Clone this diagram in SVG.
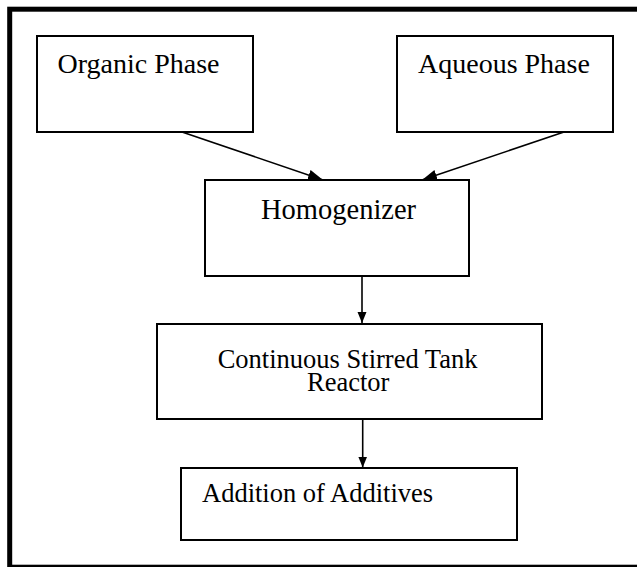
<svg xmlns="http://www.w3.org/2000/svg" width="637" height="567" viewBox="0 0 637 567">
<style>
.box{fill:#fff;stroke:#000;stroke-width:2}
.t{font-family:"Liberation Serif","Times New Roman",serif;fill:#000}
.l{stroke:#000;stroke-width:1.6;fill:none}
</style>
<defs>
<marker id="ah" markerUnits="userSpaceOnUse" markerWidth="16" markerHeight="12" refX="15" refY="5.5" orient="auto"><path d="M0,0 L15,5.5 L0,11 z" fill="#000"/></marker>
<marker id="av" markerUnits="userSpaceOnUse" markerWidth="12" markerHeight="10" refX="11" refY="4.5" orient="auto"><path d="M0,0 L11,4.5 L0,9 z" fill="#000"/></marker>
</defs>
<rect x="0" y="0" width="637" height="567" fill="#fff"/>
<rect x="9.7" y="9.2" width="640" height="558" fill="none" stroke="#000" stroke-width="5"/>
<g id="organic"><rect class="box" x="37" y="36" width="216" height="96"/><text class="t" x="57.5" y="72.7" font-size="28">Organic Phase</text></g>
<g id="aqueous"><rect class="box" x="397" y="36" width="216" height="96"/><text class="t" x="418" y="72.7" font-size="28">Aqueous Phase</text></g>
<g id="homogenizer"><rect class="box" x="205" y="180" width="264" height="96"/><text class="t" x="261" y="219" font-size="28.5">Homogenizer</text></g>
<g id="cstr"><rect class="box" x="157" y="324" width="385" height="95"/><text class="t" x="217.7" y="367.5" font-size="26.5">Continuous Stirred Tank</text><text class="t" x="307" y="391" font-size="26.5">Reactor</text></g>
<g id="additives"><rect class="box" x="181" y="468" width="336" height="72"/><text class="t" x="202" y="502.3" font-size="26.5">Addition of Additives</text></g>
<g id="connectors">
<line class="l" x1="182" y1="132" x2="323" y2="180" marker-end="url(#ah)"/>
<line class="l" x1="564" y1="132" x2="422" y2="180" marker-end="url(#ah)"/>
<line class="l" x1="362" y1="276" x2="362" y2="323" marker-end="url(#av)"/>
<line class="l" x1="362.7" y1="419.5" x2="362.7" y2="467.5" marker-end="url(#av)"/>
</g>
</svg>
